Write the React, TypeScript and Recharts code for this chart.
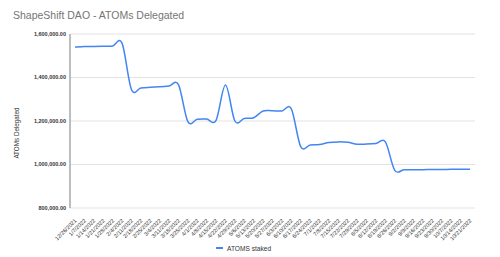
import { CartesianGrid, Legend, Line, LineChart, XAxis, YAxis } from "recharts";

const dates = [
  "12/26/2021", "1/7/2022", "1/14/2022", "1/21/2022", "1/28/2022", "2/4/2022", "2/11/2022",
  "2/18/2022", "2/25/2022", "3/4/2022", "3/11/2022", "3/18/2022", "3/25/2022", "4/1/2022",
  "4/8/2022", "4/15/2022", "4/22/2022", "4/29/2022", "5/6/2022", "5/13/2022", "5/20/2022",
  "5/27/2022", "6/3/2022", "6/10/2022", "6/17/2022", "6/24/2022", "7/1/2022", "7/8/2022",
  "7/15/2022", "7/22/2022", "7/29/2022", "8/5/2022", "8/12/2022", "8/19/2022", "8/26/2022",
  "9/2/2022", "9/9/2022", "9/16/2022", "9/23/2022", "9/30/2022", "10/7/2022", "10/14/2022",
  "10/21/2022",
];

const staked = [
  1540000, 1542000, 1543000, 1544000, 1545000, 1558000, 1345000, 1352000, 1355000, 1357000,
  1361000, 1367000, 1197000, 1208000, 1209000, 1203000, 1365000, 1200000, 1212000, 1215000,
  1246000, 1247000, 1246000, 1256000, 1082000, 1090000, 1092000, 1101000, 1104000, 1102000,
  1093000, 1094000, 1097000, 1104000, 973000, 976000, 976000, 976000, 977000, 977000,
  978000, 978000, 978000,
];

const yTicks = [800000, 1000000, 1200000, 1400000, 1600000];

const data = dates.map((d, i) => ({ date: d, atoms: staked[i] }));

const FONT = "Arial, 'Liberation Sans', sans-serif";
const BLUE = "#4285f4";

// sheets-style smoothing (catmull-rom), overshoots a bit at the steps
function smooth(ctx: any) {
  let pts: number[][] = [];
  return {
    areaStart() {},
    areaEnd() {},
    lineStart() {
      pts = [];
    },
    point(x: number, y: number) {
      pts.push([+x, +y]);
    },
    lineEnd() {
      if (!pts.length) return;
      ctx.moveTo(pts[0][0], pts[0][1]);
      for (let i = 0; i < pts.length - 1; i++) {
        const p0 = pts[Math.max(0, i - 1)];
        const p1 = pts[i];
        const p2 = pts[i + 1];
        const p3 = pts[Math.min(pts.length - 1, i + 2)];
        ctx.bezierCurveTo(
          p1[0] + (p2[0] - p0[0]) / 6,
          p1[1] + (p2[1] - p0[1]) / 6,
          p2[0] - (p3[0] - p1[0]) / 6,
          p2[1] - (p3[1] - p1[1]) / 6,
          p2[0],
          p2[1]
        );
      }
    },
  };
}

function XTick({ x, y, payload }: any) {
  const ax = x + 2;
  const ay = y + 5;
  return (
    <text
      x={ax}
      y={ay}
      transform={`rotate(-45 ${ax} ${ay})`}
      textAnchor="end"
      fontSize={5.6}
      fill="#333"
      fontFamily={FONT}
    >
      {payload.value}
    </text>
  );
}

function LegendBox() {
  return (
    <div style={{ display: "flex", alignItems: "center", height: 12, fontFamily: FONT }}>
      <span style={{ width: 7, height: 2.5, background: BLUE, display: "inline-block", marginRight: 4 }} />
      <span style={{ fontSize: 6.6, color: "#333" }}>ATOMS staked</span>
    </div>
  );
}

export default function App() {
  return (
    <div style={{ position: "absolute", left: 0, top: 0, width: 500, height: 257, background: "#fff" }}>
      <div
        style={{
          position: "absolute",
          left: 13,
          top: 9,
          fontSize: 10.5,
          lineHeight: "12px",
          color: "#757575",
          fontFamily: FONT,
        }}
      >
        ShapeShift DAO - ATOMs Delegated
      </div>
      <LineChart width={500} height={257} data={data} margin={{ top: 34, right: 25, bottom: 0, left: 0 }}>
        <CartesianGrid vertical={false} stroke="#e3e3e3" />
        <XAxis
          dataKey="date"
          interval={0}
          tick={<XTick />}
          tickLine={false}
          axisLine={false}
          height={37}
          padding={{ left: 5, right: 5 }}
        />
        <YAxis
          width={70}
          domain={[800000, 1600000]}
          ticks={yTicks}
          tickFormatter={(v: number) => v.toLocaleString("en-US") + ".00"}
          tick={{ fontSize: 5.5, fontWeight: 700, fill: "#333", fontFamily: FONT }}
          tickLine={false}
          tickSize={2}
          tickMargin={2}
          axisLine={{ stroke: "#a8a8a8", strokeWidth: 1.5 }}
          label={{
            value: "ATOMs Delegated",
            angle: -90,
            position: "insideLeft",
            dx: 12,
            dy: 12,
            style: { fontSize: 6.3, fill: "#333", fontFamily: FONT, textAnchor: "middle" },
          }}
        />
        <Legend content={<LegendBox />} wrapperStyle={{ left: 216, top: 242, width: 80, height: 12 }} />
        <Line
          dataKey="atoms"
          name="ATOMS staked"
          type={smooth as any}
          stroke={BLUE}
          strokeWidth={1.5}
          dot={false}
          activeDot={false}
          isAnimationActive={false}
        />
      </LineChart>
    </div>
  );
}
